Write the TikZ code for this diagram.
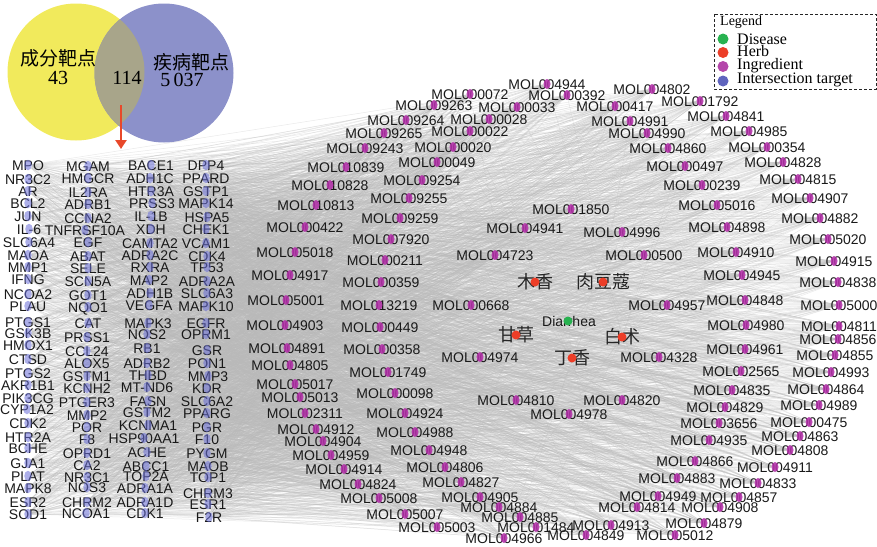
\documentclass[tikz,border=0pt]{standalone}
\usepackage{fontspec}
\setmainfont{Liberation Serif}
\newfontfamily\arialf{Liberation Sans}
\newfontfamily\cjkf{Noto Sans CJK SC}
\usetikzlibrary{arrows.meta,shapes.geometric}
\pgfdeclarelayer{edgelayer}
\pgfsetlayers{edgelayer,main}
\definecolor{vyellow}{RGB}{241,234,92}
\definecolor{vblue}{RGB}{140,145,202}
\definecolor{vmid}{RGB}{168,165,138}
\definecolor{genec}{RGB}{105,110,215}
\definecolor{molc}{RGB}{178,48,168}
\definecolor{herbc}{RGB}{236,62,40}
\definecolor{disc}{RGB}{40,178,80}
\definecolor{legblue}{RGB}{95,100,190}
\definecolor{legpurple}{RGB}{180,70,170}
\definecolor{arrowred}{RGB}{232,72,42}
\tikzset{
  netedge/.style={draw=black!28, line width=0.5pt, opacity=0.3},
  gtxt/.style={font=\arialf\fontsize{14}{14}\selectfont, text=black!90, inner sep=0pt, text height=10pt, text depth=0pt},
  gdot/.style={ellipse, fill=genec, fill opacity=0.55, draw=none, minimum width=7.5pt, minimum height=10.5pt, inner sep=0pt},
  mtxt/.style={font=\arialf\fontsize{14}{14}\selectfont, text=black!90, inner sep=0pt, text height=10pt, text depth=0pt},
  mdot/.style={ellipse, fill=molc, fill opacity=0.88, draw=none, minimum width=7pt, minimum height=10pt, inner sep=0pt},
  htxt/.style={font=\cjkf\fontsize{18}{18}\selectfont, text=black!85, inner sep=0pt},
  hdot/.style={circle, fill=herbc, draw=none, minimum size=9pt, inner sep=0pt},
  vtxt/.style={font=\cjkf\fontsize{19}{19}\selectfont, inner sep=0pt},
  vnum/.style={font=\fontsize{20}{20}\selectfont, inner sep=0pt},
  legdot/.style={circle, draw=none, minimum size=11pt, inner sep=0pt},
  legtxt/.style={font=\fontsize{16}{16}\selectfont, anchor=west, inner sep=0pt},
}
\begin{document}
\begin{tikzpicture}[x=1pt,y=-1pt]
\useasboundingbox (0,0) rectangle (877,546);
% Venn
\node[circle, fill=vyellow, minimum size=137pt, inner sep=0pt] (vA) at (76,72) {};
\node[circle, fill=vblue, minimum size=139pt, inner sep=0pt] (vB) at (164,73) {};
\begin{scope}
  \clip (76,72) circle[radius=68.5pt];
  \fill[vmid] (164,73) circle[radius=69.5pt];
\end{scope}
\node[vtxt] (vA1) at (58,58) {成分靶点};
\node[vnum] (vA2) at (58,78) {43};
\node[vnum] (vC) at (127,78) {114};
\node[vtxt] (vB1) at (191,62) {疾病靶点};
\node[vnum] (vB2) at (182,80) {5\,037};
\coordinate (arS) at (121,105);
\coordinate (arE) at (121,149);
\draw[arrowred, line width=2.6pt, -{Triangle[length=9pt,width=11pt]}] (arS) -- (arE);
% Legend
\draw[black!85, line width=0.9pt, dash pattern=on 3pt off 2pt] (714,14) rectangle (876,89);
\node[font=\fontsize{14}{14}\selectfont, anchor=west, inner sep=0pt] (legT) at (720,22) {Legend};
\node[legdot, fill=disc] (ld1) at (723,39) {};
\node[legdot, fill=herbc] (ld2) at (723,52.5) {};
\node[legdot, fill=legpurple] (ld3) at (723,66.5) {};
\node[legdot, fill=legblue] (ld4) at (723,81) {};
\node[legtxt] (lt1) at (737,39) {Disease};
\node[legtxt] (lt2) at (737,51.5) {Herb};
\node[legtxt] (lt3) at (737,65.5) {Ingredient};
\node[legtxt] (lt4) at (737,80) {Intersection target};
% Genes
\foreach \i/\x/\y/\t in {
1/28/165/MPO,2/28/179/NR3C2,3/28/191/AR,4/28/203/BCL2,5/28/216/JUN,6/29/229/IL-6,7/29/242/SLC6A4,
8/28/255/MAOA,9/28/267/MMP1,10/28/279/IFNG,11/28/294/NCOA2,12/28/306/PLAU,13/28/322/PTGS1,14/28/333/GSK3B,
15/28/345/HMOX1,16/28/359/CTSD,17/28/373/PTGS2,18/28/385/AKR1B1,19/28/398/PIK3CG,20/27/409/CYP1A2,21/28/423/CDK2,
22/28/437/HTR2A,23/28/448/BCHE,24/28/463/GJA1,25/28/476/PLAT,26/28/488/MAPK8,27/28/502/ESR2,28/28/514/SOD1,
29/88/166/MGAM,30/88/178/HMGCR,31/88/192/IL2RA,32/88/204/ADRB1,33/88/218/CCNA2,34/85/230/TNFRSF10A,35/88/242/EGF,
36/88/256/ABAT,37/88/268/SELE,38/88/281/SCN5A,39/88/295/GOT1,40/88/307/NQO1,41/88/323/CAT,42/87/337/PRSS1,
43/87/351/CCL24,44/87/363/ALOX5,45/87/376/GSTM1,46/87/388/KCNH2,47/87/402/PTGER3,48/87/415/MMP2,49/87/427/POR,
50/87/439/F8,51/87/453/OPRD1,52/87/465/CA2,53/87/477/NR3C1,54/87/487/NOS3,55/87/502/CHRM2,56/86/513/NCOA1,
57/151/165/BACE1,58/150/178/ADH1C,59/151/191/HTR3A,60/152/203/PRSS3,61/151/216/IL-1B,62/151/229/XDH,63/150/243/CAMTA2,
64/150/255/ADRA2C,65/150/267/RXRA,66/149/280/MAP2,67/150/293/ADH1B,68/149/305/VEGFA,69/148/323/MAPK3,70/147/334/NOS2,
71/147/348/RB1,72/147/363/ADRB2,73/148/375/THBD,74/147/387/MT-ND6,75/148/401/FASN,76/147/412/GSTM2,77/148/425/KCNMA1,
78/144/438/HSP90AA1,79/147/452/ACHE,80/146/466/ABCC1,81/146/476/TOP2A,82/145/488/ADRA1A,83/145/502/ADRA1D,84/145/513/CDK1,
85/206/165/DPP4,86/206/178/PPARD,87/206/191/GSTP1,88/206/203/MAPK14,89/207/217/HSPA5,90/206/229/CHEK1,91/206/243/VCAM1,
92/207/256/CDK4,93/207/267/TP53,94/207/281/ADRA2A,95/207/293/SLC6A3,96/206/306/MAPK10,97/206/323/EGFR,98/206/334/OPRM1,
99/207/350/GSR,100/207/363/PON1,101/208/376/MMP3,102/207/388/KDR,103/207/401/SLC6A2,104/207/413/PPARG,105/207/427/PGR,
106/207/439/F10,107/207/453/PYGM,108/208/466/MAOB,109/208/477/TOP1,110/208/493/CHRM3,111/208/504/ESR1,112/209/517/F2R}{
  \node[gtxt] (gt\i) at (\x,\y) {\t};
  \node[gdot] (g\i) at (\x,\y) {};
}
% Ingredients
\foreach \i/\x/\y/\t in {
1/547/84/MOL004944,2/470/94/MOL000072,3/567/95/MOL000392,4/652/89/MOL004802,5/434/105/MOL009263,6/517/107/MOL000033,
7/615/106/MOL000417,8/700/101/MOL001792,9/406/120/MOL009264,10/489/119/MOL000028,11/630/121/MOL004991,12/726/116/MOL004841,
13/384/133/MOL009265,14/470/131/MOL000022,15/647/133/MOL004990,16/749/131/MOL004985,17/365/148/MOL009243,18/453/147/MOL000020,
19/668/148/MOL004860,20/767/147/MOL000354,21/346/167/MOL010839,22/437/162/MOL000049,23/685/166/MOL000497,24/783/162/MOL004828,
25/330/185/MOL010828,26/422/180/MOL009254,27/702/185/MOL000239,28/798/179/MOL004815,29/316/205/MOL010813,30/409/198/MOL009255,
31/571/209/MOL001850,32/717/205/MOL005016,33/810/198/MOL004907,34/400/218/MOL009259,35/525/228/MOL004941,36/622/232/MOL004996,
37/727/227/MOL004898,38/820/218/MOL004882,39/305/227/MOL000422,40/391/239/MOL007920,41/828/239/MOL005020,42/295/252/MOL005018,
43/385/260/MOL000211,44/495/255/MOL004723,45/644/255/MOL000500,46/736/252/MOL004910,47/834/261/MOL004915,48/290/275/MOL004917,
49/381/282/MOL000359,50/742/275/MOL004945,51/838/282/MOL004838,52/286/300/MOL005001,53/379/305/MOL013219,54/471/305/MOL000668,
55/667/305/MOL004957,56/745/300/MOL004848,57/839/305/MOL005000,58/285/325/MOL004903,59/380/327/MOL000449,60/746/325/MOL004980,
61/839/326/MOL004811,62/838/339/MOL004856,63/287/348/MOL004891,64/382/349/MOL000358,65/480/357/MOL004974,66/659/357/MOL004328,
67/745/349/MOL004961,68/835/355/MOL004855,69/290/365/MOL004805,70/388/372/MOL001749,71/741/371/MOL002565,72/831/372/MOL004993,
73/295/384/MOL005017,74/300/397/MOL005013,75/395/393/MOL000098,76/516/400/MOL004810,77/622/400/MOL004820,78/569/414/MOL004978,
79/732/390/MOL004835,80/826/389/MOL004864,81/305/413/MOL002311,82/405/413/MOL004924,83/725/407/MOL004829,84/819/405/MOL004989,
85/316/429/MOL004912,86/415/432/MOL004988,87/719/423/MOL003656,88/809/422/MOL000475,89/323/441/MOL004904,90/800/436/MOL004863,
91/331/455/MOL004959,92/429/450/MOL004948,93/709/440/MOL004935,94/790/450/MOL004808,95/344/469/MOL004914,96/445/467/MOL004806,
97/695/461/MOL004866,98/775/467/MOL004911,99/358/484/MOL004824,100/461/482/MOL004827,101/677/478/MOL004883,102/758/483/MOL004833,
103/379/498/MOL005008,104/480/497/MOL004905,105/658/496/MOL004949,106/739/497/MOL004857,107/405/514/MOL005007,108/499/507/MOL004884,
109/520/517/MOL004885,110/637/507/MOL004814,111/720/507/MOL004908,112/437/527/MOL005003,113/536/527/MOL001484,114/611/525/MOL004913,
115/704/523/MOL004879,116/504/538/MOL004966,117/586/535/MOL004849,118/675/535/MOL005012}{
  \node[mtxt] (mt\i) at (\x,\y) {\t};
  \node[mdot] (m\i) at (\x,\y) {};
}
% Herbs and disease
\foreach \i/\x/\y/\t in {1/535/282/木香,2/603/282/肉豆蔻,3/516/335/甘草,4/622/337/白术,5/572/358/丁香}{
  \node[htxt] (ht\i) at (\x,\y) {\t};
  \node[hdot] (h\i) at (\x,\y) {};
}
\node[mtxt] (dt) at (569,321) {Diarrhea};
\node[hdot, fill=disc] (dia) at (568,321) {};
% Edges
\begin{pgfonlayer}{edgelayer}
\foreach \i in {1,...,118}{
  \foreach \k in {1,...,34}{
    \pgfmathtruncatemacro{\j}{mod(\i*37+\k*53,112)+1}
    \draw[netedge] (g\j) -- (m\i);
  }
  \pgfmathtruncatemacro{\hh}{mod(\i,5)+1}
  \draw[netedge] (m\i) -- (h\hh);
}
\foreach \h in {1,...,5}{\draw[netedge] (h\h) -- (dia);}
\end{pgfonlayer}
\end{tikzpicture}
\end{document}
